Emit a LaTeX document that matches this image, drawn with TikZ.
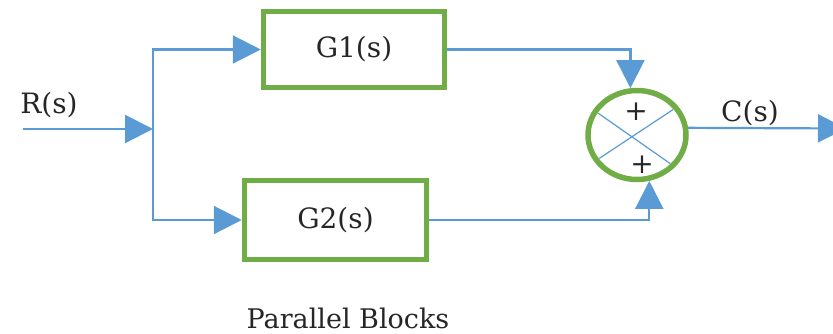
\documentclass[tikz,border=0pt]{standalone}
\usepackage{fontspec}
\setmainfont{DejaVu Serif}
\usetikzlibrary{arrows.meta,shapes.geometric}
\definecolor{lineblue}{HTML}{5B9BD5}
\definecolor{boxgreen}{HTML}{70AD47}
\tikzset{
  block/.style={draw=boxgreen,line width=5.5pt,minimum width=181pt,minimum height=76pt,
    inner sep=0pt,text=black!85,font=\fontsize{28}{30}\selectfont},
  signal/.style={draw=lineblue,line width=2.2pt,-{Triangle[length=28pt,width=28pt]}},
  label/.style={text=black!85,font=\fontsize{28}{30}\selectfont}
}

\begin{document}
\begin{tikzpicture}[x=1pt,y=-1pt]
\useasboundingbox (0,0) rectangle (833,333);
% blocks and summing point
\node[block] (G1) at (354,49.5) {G1(s)};
\node[block,minimum width=182pt,minimum height=79pt] (G2) at (335.5,220) {G2(s)};
\node[draw=boxgreen,line width=5.5pt,ellipse,minimum width=98pt,minimum height=89pt,inner sep=0pt] (sum) at (637,135) {};
\coordinate (in) at (23,129);
\coordinate (split) at (153,129);
\coordinate (out) at (846,128.5);
% signals
\draw[signal] (in) -- (split);
\draw[signal] (split) |- (G1.west);
\draw[signal] (split) |- (G2.west);
\draw[signal] (G1.east) -| (sum.98);
\draw[signal] (G2.east) -| (sum.-75);
\draw[signal] (sum.8) -- (out);
% cross inside the summing point
\draw[lineblue,line width=1.2pt,shorten <=6pt,shorten >=6pt] (sum.150) -- (sum.-40);
\draw[lineblue,line width=1.2pt,shorten <=6pt,shorten >=6pt] (sum.212) -- (sum.35);
\node[label] (plustop) at (636,112) {+};
\node[label] (plusbot) at (642,165) {+};
% labels
\node[label] (rs) at (49,105) {R(s)};
\node[label] (cs) at (750,113) {C(s)};
\node[label,font=\fontsize{27}{29}\selectfont,anchor=base] (title) at (348,328) {Parallel Blocks};
\end{tikzpicture}
\end{document}
